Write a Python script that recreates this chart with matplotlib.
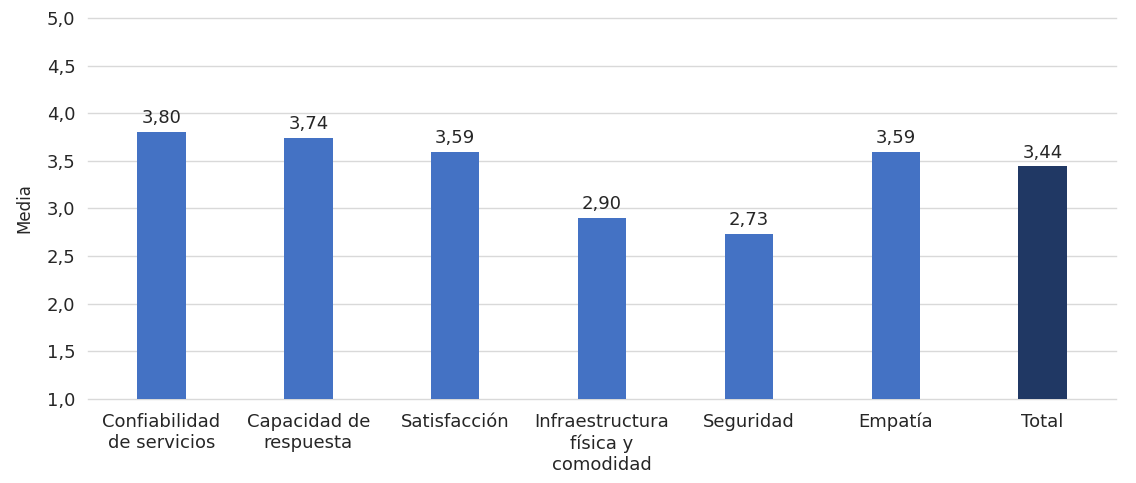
import matplotlib.pyplot as plt
import numpy as np

categories = ["Confiabilidad\nde servicios", "Capacidad de\nrespuesta", "Satisfacción",
              "Infraestructura\nfísica y\ncomodidad", "Seguridad", "Empatía", "Total"]
values = [3.80, 3.74, 3.59, 2.90, 2.73, 3.59, 3.44]
value_labels = ["3,80", "3,74", "3,59", "2,90", "2,73", "3,59", "3,44"]
y_ticks = [1.0, 1.5, 2.0, 2.5, 3.0, 3.5, 4.0, 4.5, 5.0]
y_tick_labels = ["1,0", "1,5", "2,0", "2,5", "3,0", "3,5", "4,0", "4,5", "5,0"]

plt.rcParams['font.family'] = ['DejaVu Sans']
txt = '#262626'

fig = plt.figure(figsize=(11.36, 4.83), dpi=100)
ax = fig.add_axes([0.0775, 0.174, 0.905, 0.789])

colors = ['#4472C4'] * (len(values) - 1) + ['#203864']
x = np.arange(len(categories))
base = 1.0
ax.bar(x, np.array(values) - base, bottom=base, width=0.33, color=colors, zorder=3)

for xi, v, lab in zip(x, values, value_labels):
    ax.text(xi, v + 0.05, lab, ha='center', va='bottom', fontsize=13, color=txt)

ax.set_xlim(-0.5, len(categories) - 0.5)
ax.set_ylim(1.0, 5.0)
ax.set_yticks(y_ticks)
ax.set_yticklabels(y_tick_labels, fontsize=13, color=txt)
ax.set_xticks(x)
ax.set_xticklabels(categories, fontsize=13, color=txt, linespacing=1.25)
ax.tick_params(axis='y', length=0, pad=9)
ax.tick_params(axis='x', length=0, pad=10)
ax.grid(axis='y', color='#D9D9D9', linewidth=1, zorder=0)
for gl in ax.get_ygridlines():
    gl.set_clip_on(False)
for s in ax.spines.values():
    s.set_visible(False)
ax.set_ylabel("Media", fontsize=12, color=txt, labelpad=10)

fig.savefig("out.png", dpi=100)
